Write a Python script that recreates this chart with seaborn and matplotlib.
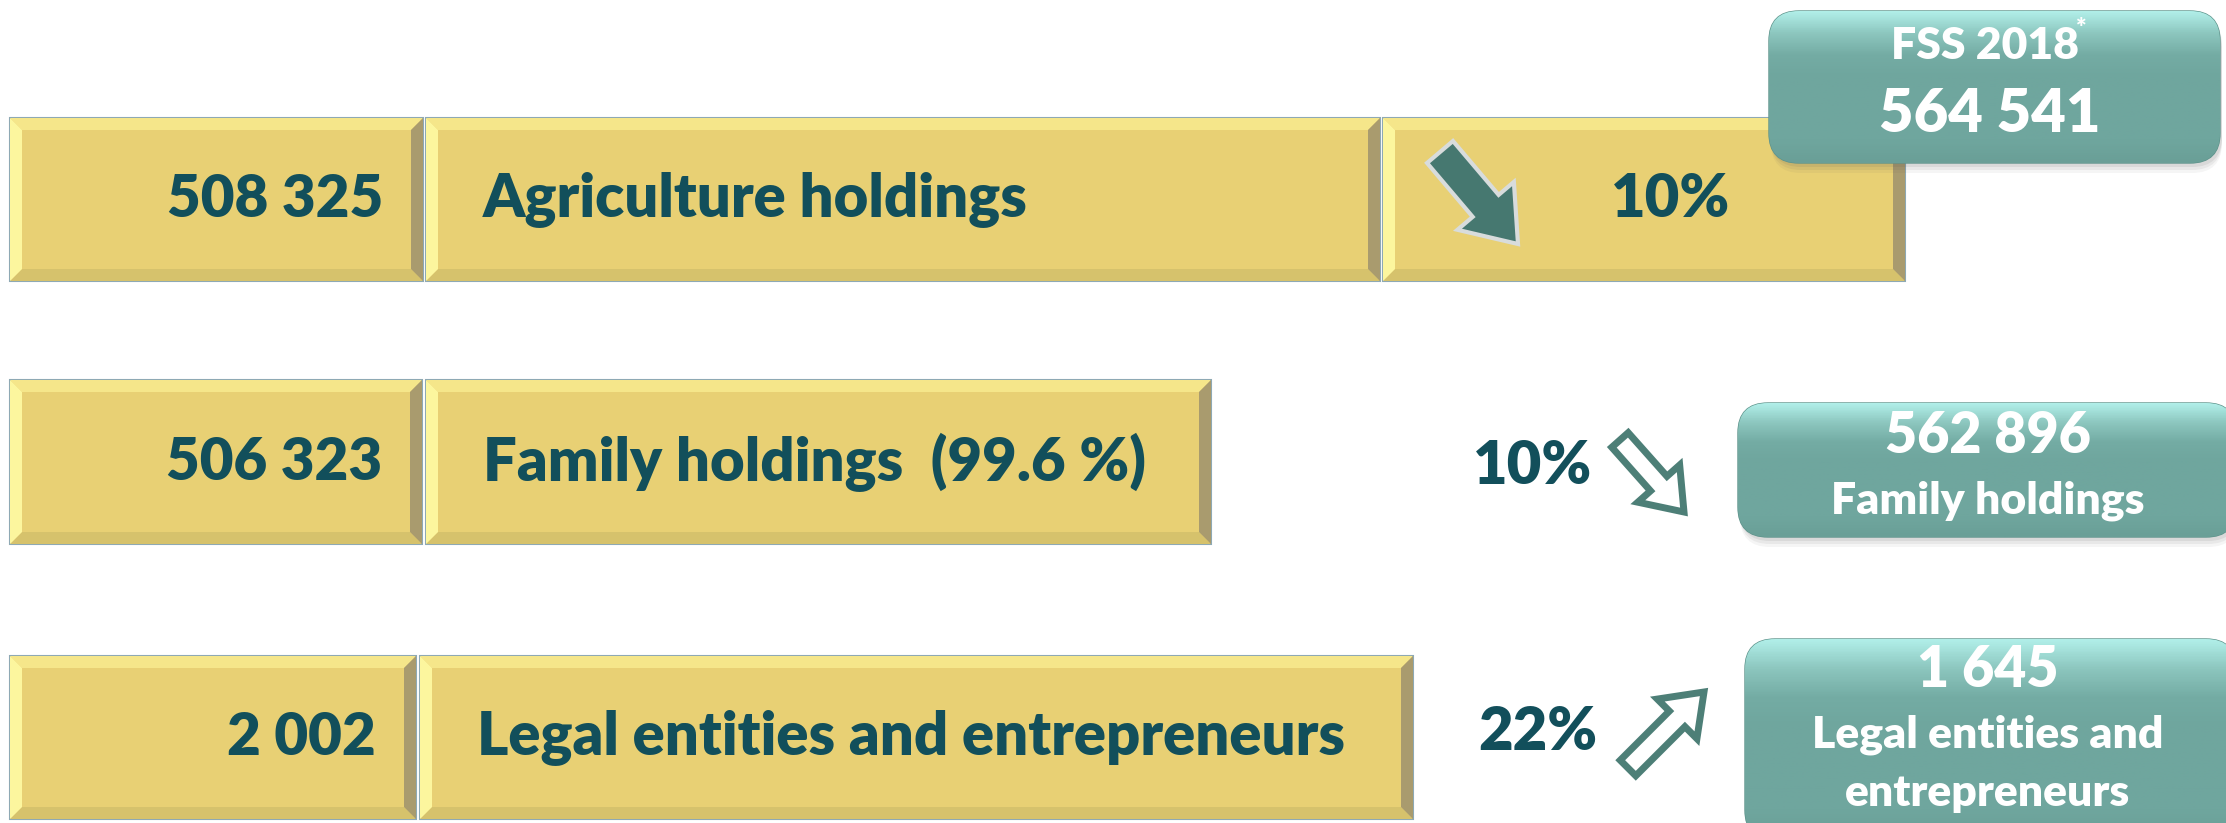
# -*- encoding utf-8 -*-
'''
    Agricultural holdings 2020 vs FSS 2018 - infographic panel
'''

# %% libraries
# ------------

import numpy as np
import matplotlib.pyplot as plt
import matplotlib.patches as mpatches
import seaborn as sns


# %% data
# -------

totals_2020 = [508325, 506323, 2002]
labels_2020 = ['Agriculture holdings', 'Family holdings  (99.6 %)',
               'Legal entities and entrepreneurs']
changes = ['10%', '10%', '22%']
totals_2018 = [564541, 562896, 1645]
labels_2018 = ['FSS 2018', 'Family holdings', 'Legal entities and', 'entrepreneurs']


def fmt(v):
    return f'{v:,}'.replace(',', ' ')


# %% layout (pixel canvas)
# ------------------------

rows_y = [(118, 281), (380, 544), (656, 819)]
segments = [[(10, 423), (426, 1380), (1383, 1905)],
            [(10, 422), (426, 1211)],
            [(10, 416), (420, 1413)]]
teal_boxes = [(1769, 2220, 11, 163), (1738, 2236, 403, 537), (1745, 2236, 639, 840)]

txt_col = '#124f5b'
face = '#e8d074'
bev_top = '#f5e68a'
bev_left = '#fcf69e'
bev_right = '#a99b6e'
bev_bot = '#d6c26c'
teal = '#6fa69e'
wt = 'heavy'

sns.set_theme(style='white')
plt.rcParams['font.family'] = ['Lato', 'DejaVu Sans']

fig = plt.figure(figsize=(22.26, 8.23), dpi=100)
ax = fig.add_axes([0, 0, 1, 1])
ax.set_xlim(0, 2226)
ax.set_ylim(823, 0)
ax.axis('off')


def bevel_box(x0, x1, y0, y1, b=12):
    ax.barh((y0 + y1) / 2, x1 - x0, left=x0, height=y1 - y0, color=face,
            edgecolor='#8ea9b4', linewidth=1.5, zorder=1)
    polys = [([(x0, y0), (x1, y0), (x1 - b, y0 + b), (x0 + b, y0 + b)], bev_top),
             ([(x0, y1), (x1, y1), (x1 - b, y1 - b), (x0 + b, y1 - b)], bev_bot),
             ([(x0, y0), (x0 + b, y0 + b), (x0 + b, y1 - b), (x0, y1)], bev_left),
             ([(x1, y0), (x1 - b, y0 + b), (x1 - b, y1 - b), (x1, y1)], bev_right)]
    for pts, c in polys:
        ax.add_patch(mpatches.Polygon(pts, closed=True, facecolor=c,
                                      edgecolor='none', zorder=2))


def teal_box(x0, x1, y0, y1, r=30):
    # soft shadow
    for k, a in zip([10, 7, 4], [0.06, 0.08, 0.1]):
        sh = mpatches.FancyBboxPatch((x0 + 2, y0 + k), x1 - x0, y1 - y0,
                                     boxstyle=f'round,pad=0,rounding_size={r}',
                                     facecolor='#555555', edgecolor='none',
                                     alpha=a, zorder=4)
        ax.add_patch(sh)
    p = mpatches.FancyBboxPatch((x0, y0), x1 - x0, y1 - y0,
                                boxstyle=f'round,pad=0,rounding_size={r}',
                                facecolor=teal, edgecolor='#5f948c',
                                linewidth=1, zorder=5)
    ax.add_patch(p)
    pal = sns.blend_palette(['#b0eee8', '#8cc6be', '#74aca4', teal, teal,
                             teal, teal, '#6a9f97'], 80)
    grad = np.array(pal)[:, None, :]
    im = ax.imshow(grad, extent=(x0, x1, y1, y0), aspect='auto', zorder=6)
    im.set_clip_path(p)


# %% yellow rows
# --------------

for i in range(3):
    y0, y1 = rows_y[i]
    yc = (y0 + y1) / 2
    for (x0, x1) in segments[i]:
        bevel_box(x0, x1, y0, y1)
    ax.text(segments[i][0][1] - 40, yc, fmt(totals_2020[i]), ha='right',
            va='center', fontsize=42, fontweight=wt, color=txt_col, zorder=7)
    ax.text(segments[i][1][0] + 57, yc, labels_2020[i], ha='left',
            va='center', fontsize=43, fontweight=wt, color=txt_col, zorder=7)

# change for the first row sits inside the yellow box
ax.text(1671, 199, changes[0], ha='center', va='center', fontsize=43,
        fontweight=wt, color=txt_col, zorder=7)
ax.add_patch(mpatches.FancyArrow(1440, 152, 78, 92, width=34, head_width=74,
                                 head_length=50, length_includes_head=True,
                                 facecolor='#467870', edgecolor='#d8dcdc',
                                 linewidth=3, zorder=7))

change_pos = [None, (1533, 466), (1538, 733)]
arrow_pos = [None, (1620, 440, 64, 72), (1628, 768, 76, -76)]
for i in (1, 2):
    ax.text(*change_pos[i], changes[i], ha='center', va='center', fontsize=43,
            fontweight=wt, color=txt_col, zorder=7)
    x, y, dx, dy = arrow_pos[i]
    ax.add_patch(mpatches.FancyArrow(x, y, dx, dy, width=22, head_width=56,
                                     head_length=38, length_includes_head=True,
                                     facecolor='white', edgecolor='#4d7f77',
                                     linewidth=5, zorder=7))


# %% teal boxes (FSS 2018)
# ------------------------

for (x0, x1, y0, y1) in teal_boxes:
    teal_box(x0, x1, y0, y1)

ax.text(1985, 46, labels_2018[0], ha='center', va='center', fontsize=32,
        fontweight=wt, color='white', zorder=8)
ax.text(2076, 28, '*', ha='left', va='center', fontsize=18,
        fontweight=wt, color='white', zorder=8)
ax.text(1990, 114, fmt(totals_2018[0]), ha='center', va='center', fontsize=43,
        fontweight=wt, color='white', zorder=8)

ax.text(1988, 436, fmt(totals_2018[1]), ha='center', va='center', fontsize=40,
        fontweight=wt, color='white', zorder=8)
ax.text(1988, 501, labels_2018[1], ha='center', va='center', fontsize=32,
        fontweight=wt, color='white', zorder=8)

ax.text(1988, 670, fmt(totals_2018[2]), ha='center', va='center', fontsize=40,
        fontweight=wt, color='white', zorder=8)
ax.text(1988, 735, labels_2018[2], ha='center', va='center', fontsize=32,
        fontweight=wt, color='white', zorder=8)
ax.text(1988, 793, labels_2018[3], ha='center', va='center', fontsize=32,
        fontweight=wt, color='white', zorder=8)

fig.savefig('out.png', dpi=100)
